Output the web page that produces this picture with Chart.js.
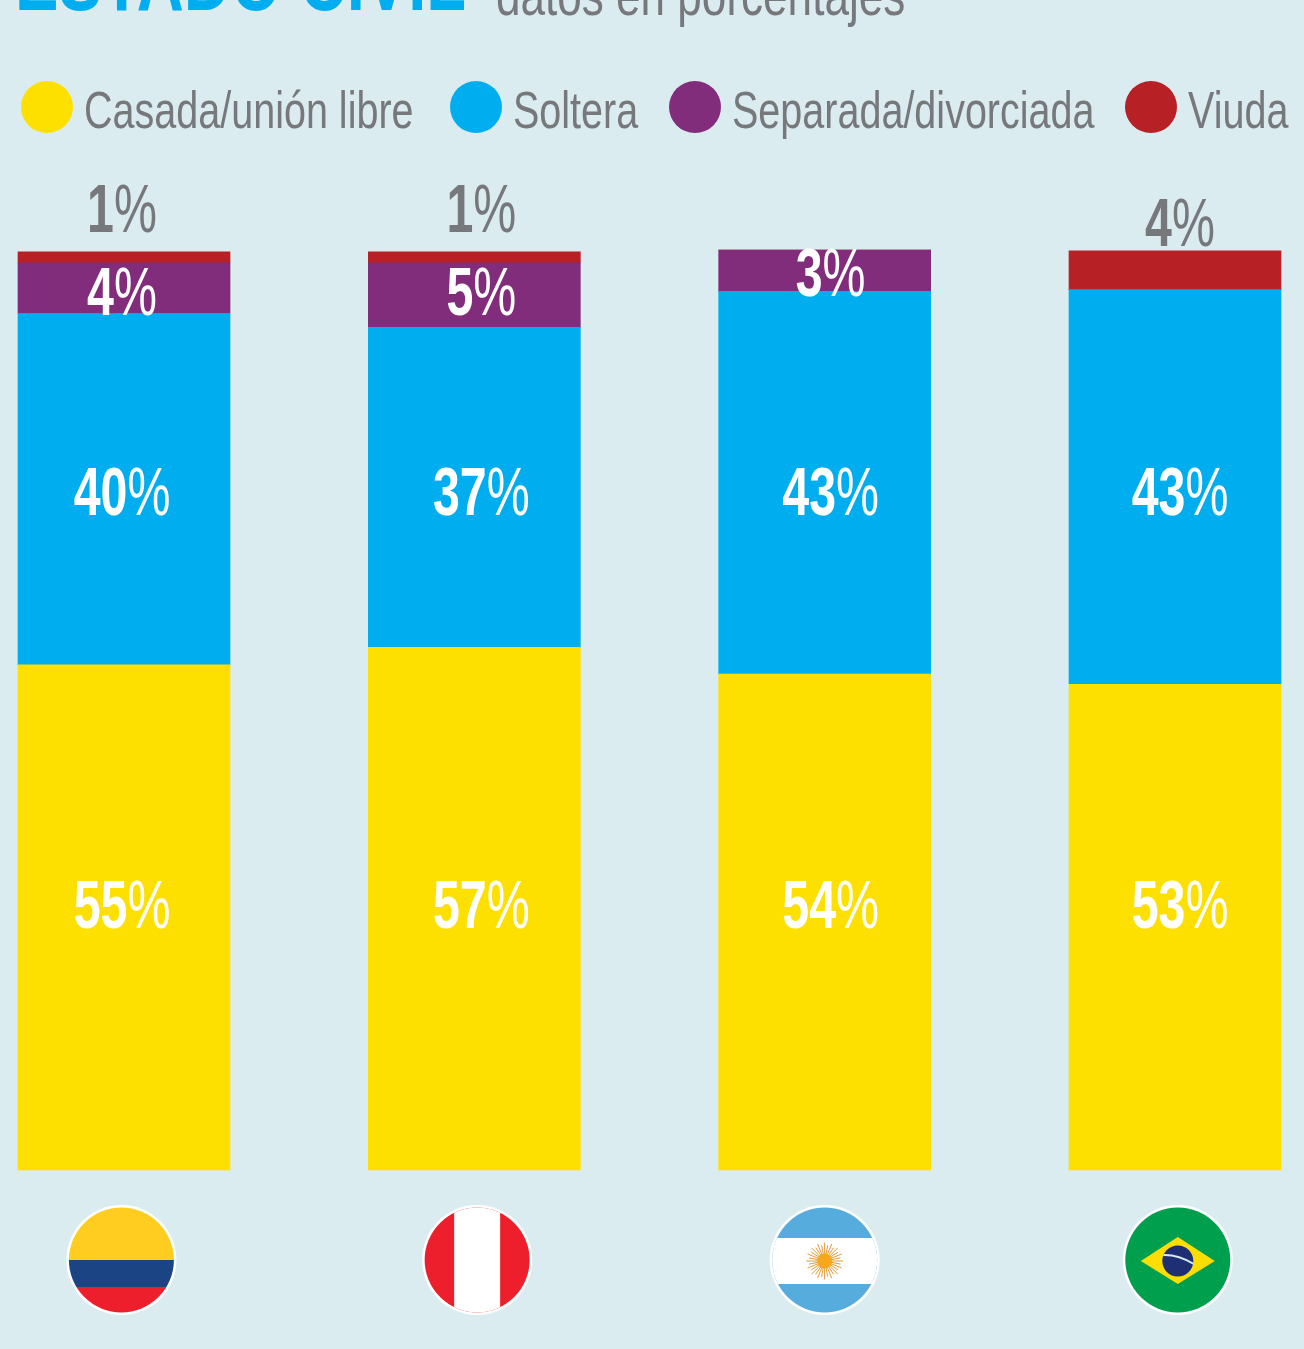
<!DOCTYPE html>
<html lang="es">
<head>
<meta charset="utf-8">
<title>Estado civil</title>
<script src="https://cdn.jsdelivr.net/npm/chart.js@4"></script>
<style>
  html, body { margin: 0; height: 100%; background: #dbecf1; overflow: hidden; }
  #page { position: relative; width: 1304px; height: 1349px; overflow: hidden; }
  #chart { position: absolute; left: 0; top: 0; }
  .txt { position: absolute; white-space: nowrap; line-height: 1; transform-origin: left top;
         font-family: "Liberation Sans", sans-serif; color: #77787c; }
  #title { left: 15px; top: -64px; font-size: 88px; font-weight: bold; color: #00aeef; transform: scaleX(.74); }
  #subtitle { left: 496px; top: -34px; font-size: 58px; transform: scaleX(.76); }
  .dot { position: absolute; top: 81px; width: 52px; height: 52px; border-radius: 50%; }
  .legend { top: 84px; font-size: 52px; transform: scaleX(.76); }
</style>
</head>
<body>
<div id="page">
  <canvas id="chart" width="1304" height="1349"></canvas>
  <div class="txt" id="title">ESTADO CIVIL</div>
  <div class="txt" id="subtitle">datos en porcentajes</div>
  <div id="legend"></div>
</div>
<script>
const countries = ['Colombia', 'Perú', 'Argentina', 'Brasil'];

// segment heights as drawn in the picture
const casada = [54.9, 56.8, 53.9, 52.8];
const soltera = [38.2, 34.8, 41.6, 42.9];
const separada = [5.5, 7.0, 4.5, 0];
const viuda = [1.2, 1.2, 0, 4.2];

// percentages as printed on the bars
const casadaText = ['55', '57', '54', '53'];
const solteraText = ['40', '37', '43', '43'];
const separadaText = ['4', '5', '3', ''];
const viudaText = ['1', '1', '', '4'];

const seriesNames = ['Casada/unión libre', 'Soltera', 'Separada/divorciada', 'Viuda'];
const seriesColors = ['#fde000', '#00aeef', '#812d7b', '#b72025'];

function makeDataset(i, values, printed, labelY, labelColor) {
    return {
        label: seriesNames[i],
        data: values,
        printed: printed,
        labelY: labelY,
        labelColor: labelColor,
        backgroundColor: seriesColors[i],
        barThickness: 212,
        clip: false
    };
}

const labelShift = [-2, 7, 6, 5];
const flagShift = [-2.6, 2.8, 0, 2.8];
const squeeze = 0.7;

const barLabels = {
    id: 'barLabels',
    afterDatasetsDraw(chart) {
        const ctx = chart.ctx;
        const x = chart.scales.x;
        const y = chart.scales.y;
        chart.data.datasets.forEach(ds => {
            ds.printed.forEach((text, i) => {
                if (!text) return;
                ctx.save();
                ctx.translate(x.getPixelForValue(i) + labelShift[i], y.getPixelForValue(ds.labelY[i]));
                ctx.scale(squeeze, 1);
                ctx.textBaseline = 'middle';
                ctx.fillStyle = ds.labelColor;
                // bold digits, thin percent sign, as in the original lettering
                const bold = 'bold 69px "Liberation Sans", sans-serif';
                const thin = '69px "Liberation Sans", sans-serif';
                ctx.font = bold;
                const w1 = ctx.measureText(text).width;
                ctx.font = thin;
                const w2 = ctx.measureText('%').width;
                const start = -(w1 + w2) / 2;
                ctx.fillText('%', start + w1, 0);
                ctx.font = bold;
                ctx.fillText(text, start, 0);
                ctx.restore();
            });
        });
    }
};

function circleFlag(ctx, cx, cy, paint) {
    ctx.save();
    ctx.beginPath();
    ctx.arc(cx, cy, 55, 0, Math.PI * 2);
    ctx.fillStyle = '#fff';
    ctx.fill();
    ctx.beginPath();
    ctx.arc(cx, cy, 52.5, 0, Math.PI * 2);
    ctx.clip();
    paint();
    ctx.restore();
}

const flagPainters = [
    (ctx, cx, cy) => {
        ctx.fillStyle = '#ffcd20';
        ctx.fillRect(cx - 55, cy - 55, 110, 55);
        ctx.fillStyle = '#1b4485';
        ctx.fillRect(cx - 55, cy, 110, 27);
        ctx.fillStyle = '#ee1f2d';
        ctx.fillRect(cx - 55, cy + 27, 110, 28);
    },
    (ctx, cx, cy) => {
        ctx.fillStyle = '#ee1f2d';
        ctx.fillRect(cx - 55, cy - 55, 110, 110);
        ctx.fillStyle = '#fff';
        ctx.fillRect(cx - 23, cy - 55, 46, 110);
    },
    (ctx, cx, cy) => {
        ctx.fillStyle = '#56acdd';
        ctx.fillRect(cx - 55, cy - 55, 110, 110);
        ctx.fillStyle = '#fff';
        ctx.fillRect(cx - 55, cy - 22, 110, 46);
        ctx.strokeStyle = '#e09a35';
        ctx.lineWidth = 1;
        for (let a = 0; a < 32; a++) {
            const ang = a * Math.PI / 16;
            const r = a % 2 ? 16 : 18.5;
            ctx.beginPath();
            ctx.moveTo(cx + Math.cos(ang) * 6, cy + 1 + Math.sin(ang) * 6);
            ctx.lineTo(cx + Math.cos(ang) * r, cy + 1 + Math.sin(ang) * r);
            ctx.stroke();
        }
        ctx.beginPath();
        ctx.arc(cx, cy + 1, 7.5, 0, Math.PI * 2);
        ctx.fillStyle = '#f6a81c';
        ctx.fill();
    },
    (ctx, cx, cy) => {
        ctx.fillStyle = '#009f4d';
        ctx.fillRect(cx - 55, cy - 55, 110, 110);
        ctx.fillStyle = '#fedd00';
        ctx.beginPath();
        ctx.moveTo(cx - 37, cy + 1);
        ctx.lineTo(cx, cy - 23);
        ctx.lineTo(cx + 37, cy + 1);
        ctx.lineTo(cx, cy + 24);
        ctx.closePath();
        ctx.fill();
        ctx.save();
        ctx.beginPath();
        ctx.arc(cx, cy + 1, 15.5, 0, Math.PI * 2);
        ctx.fillStyle = '#1f2f75';
        ctx.fill();
        ctx.clip();
        ctx.strokeStyle = '#d5ece8';
        ctx.lineWidth = 2;
        ctx.beginPath();
        ctx.moveTo(cx - 16, cy - 5);
        ctx.quadraticCurveTo(cx, cy - 6, cx + 16, cy + 4);
        ctx.stroke();
        ctx.restore();
    }
];

const flags = {
    id: 'flags',
    afterDraw(chart) {
        const ctx = chart.ctx;
        const x = chart.scales.x;
        countries.forEach((name, i) => {
            const cx = x.getPixelForValue(i) + flagShift[i];
            const cy = chart.chartArea.bottom + 90;
            circleFlag(ctx, cx, cy, () => flagPainters[i](ctx, cx, cy));
        });
    }
};

const chart = new Chart(document.getElementById('chart'), {
    type: 'bar',
    data: {
        labels: countries,
        datasets: [
            makeDataset(0, casada, casadaText, [28.4, 28.4, 28.4, 28.4], '#fff'),
            makeDataset(1, soltera, solteraText, [73.3, 73.3, 73.3, 73.3], '#fff'),
            makeDataset(2, separada, separadaText, [95, 95, 97.1, 0], '#fff'),
            makeDataset(3, viuda, viudaText, [104, 104, 0, 102.5], '#77787c')
        ]
    },
    options: {
        responsive: false,
        animation: false,
        layout: { padding: { left: 124, right: 129, top: 250, bottom: 179 } },
        plugins: { legend: { display: false }, tooltip: { enabled: false } },
        scales: {
            x: { stacked: true, display: false, offset: false },
            y: { stacked: true, display: false, min: 0, max: 100 }
        }
    },
    plugins: [barLabels, flags]
});

// html legend built from the chart's datasets
const dotLeft = [21, 450, 669, 1125];
const textLeft = [84, 513, 732, 1188];
const legendBox = document.getElementById('legend');
chart.data.datasets.forEach((ds, i) => {
    const dot = document.createElement('div');
    dot.className = 'dot';
    dot.style.left = dotLeft[i] + 'px';
    dot.style.background = ds.backgroundColor;
    legendBox.appendChild(dot);
    const label = document.createElement('div');
    label.className = 'txt legend';
    label.style.left = textLeft[i] + 'px';
    label.textContent = ds.label;
    legendBox.appendChild(label);
});
</script>
</body>
</html>
